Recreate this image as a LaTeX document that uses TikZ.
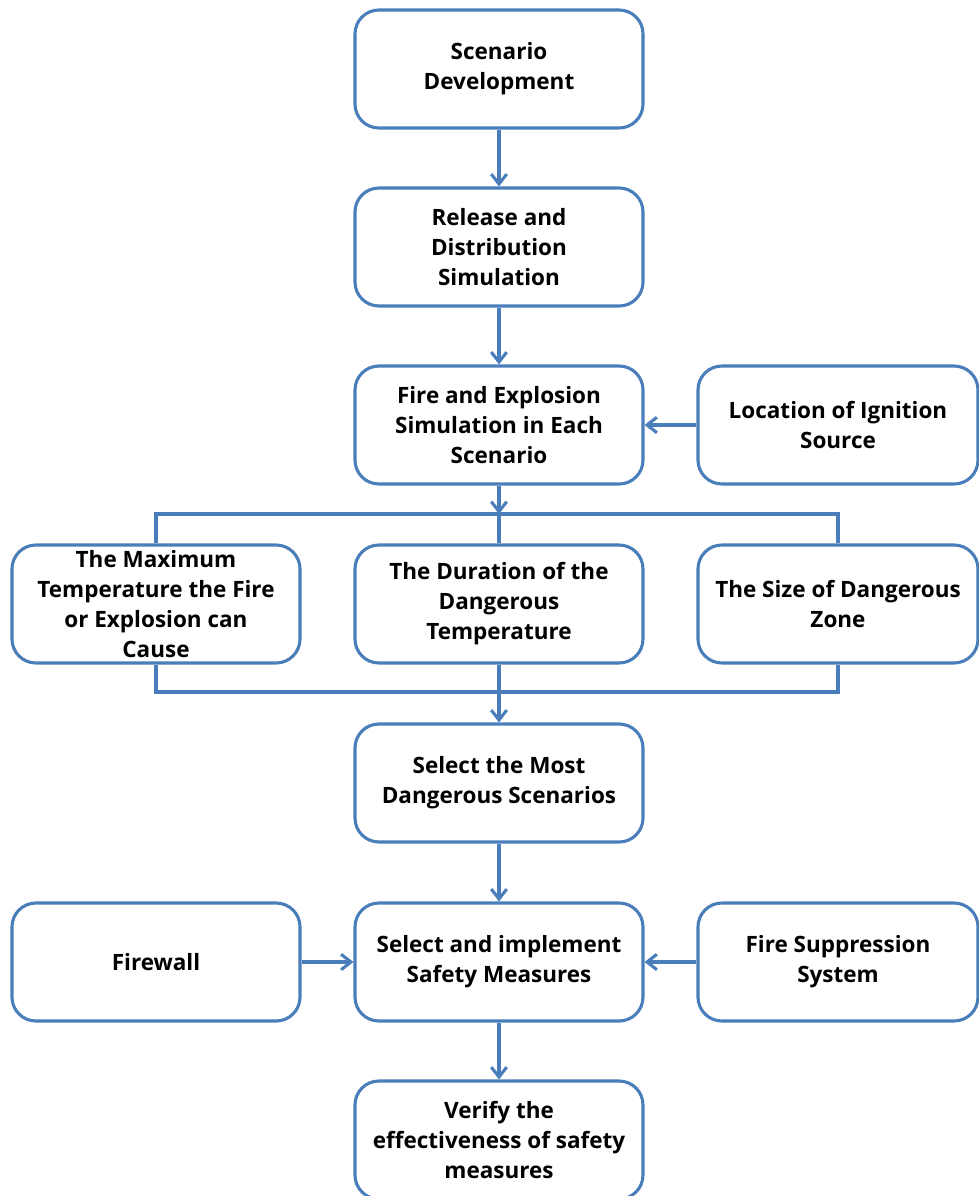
\documentclass[tikz,border=0pt]{standalone}
\usepackage{fontspec}
\setmainfont{Open Sans}
\usepackage{tikz}
\usetikzlibrary{
  arrows.meta,
  calc,
  positioning
}
\definecolor{flowblue}{RGB}{74,126,187}

\begin{document}
\begin{tikzpicture}[
  proc/.style={rectangle, draw=flowblue, line width=2.2pt, rounded corners=17pt, minimum height=2.95cm, minimum width=7.2cm, align=center, font=\fontsize{16}{21.3}\selectfont\bfseries, inner sep=2pt},
  arrow/.style={-{Straight Barb[length=7pt, width=11pt, line width=2.2pt]}, draw=flowblue, line width=2.2pt},
  link/.style={draw=flowblue, line width=2.2pt},
]
\useasboundingbox (0,0) rectangle (24.475,-29.9);

% Main column
\node[proc] (scen) at (12.475, -1.725) {Scenario\\Development};
\node[proc] (rel) at (12.475, -6.175) {Release and\\Distribution\\Simulation};
\node[proc] (fire) at (12.475, -10.625) {Fire and Explosion\\Simulation in Each\\Scenario};
\node[proc, minimum width=7cm] (ign) at (20.95, -10.625) {Location of Ignition\\Source};

% Evaluation criteria
\node[proc] (maxt) at (3.9, -15.1) {The Maximum\\Temperature the Fire\\or Explosion can\\Cause};
\node[proc] (dur) at (12.475, -15.1) {The Duration of the\\Dangerous\\Temperature};
\node[proc, minimum width=7cm] (zone) at (20.95, -15.1) {The Size of Dangerous\\Zone};

% Selection
\node[proc] (sel) at (12.475, -19.575) {Select the Most\\Dangerous Scenarios};
\node[proc] (fw) at (3.9, -24.05) {Firewall};
\node[proc] (impl) at (12.475, -24.05) {Select and implement\\Safety Measures};
\node[proc, minimum width=7cm] (supp) at (20.95, -24.05) {Fire Suppression\\System};
\node[proc] (ver) at (12.475, -28.5) {Verify the\\effectiveness of safety\\measures};

% Split and join points
\coordinate (split) at (12.475, -12.85);
\coordinate (join) at (12.475, -17.3);

% Arrows
\draw[arrow] (scen) -- (rel);
\draw[arrow] (rel) -- (fire);
\draw[arrow] (ign) -- (fire);
\draw[arrow] (fire) -- (split);
\draw[link] (maxt.north) |- (split) -| (zone.north);
\draw[link] (split) -- (dur.north);
\draw[link] (maxt.south) |- (join) -| (zone.south);
\draw[arrow] (dur.south) -- (sel.north);
\draw[arrow] (sel) -- (impl);
\draw[arrow] (fw) -- (impl);
\draw[arrow] (supp) -- (impl);
\draw[arrow] (impl) -- (ver);
\end{tikzpicture}
\end{document}
